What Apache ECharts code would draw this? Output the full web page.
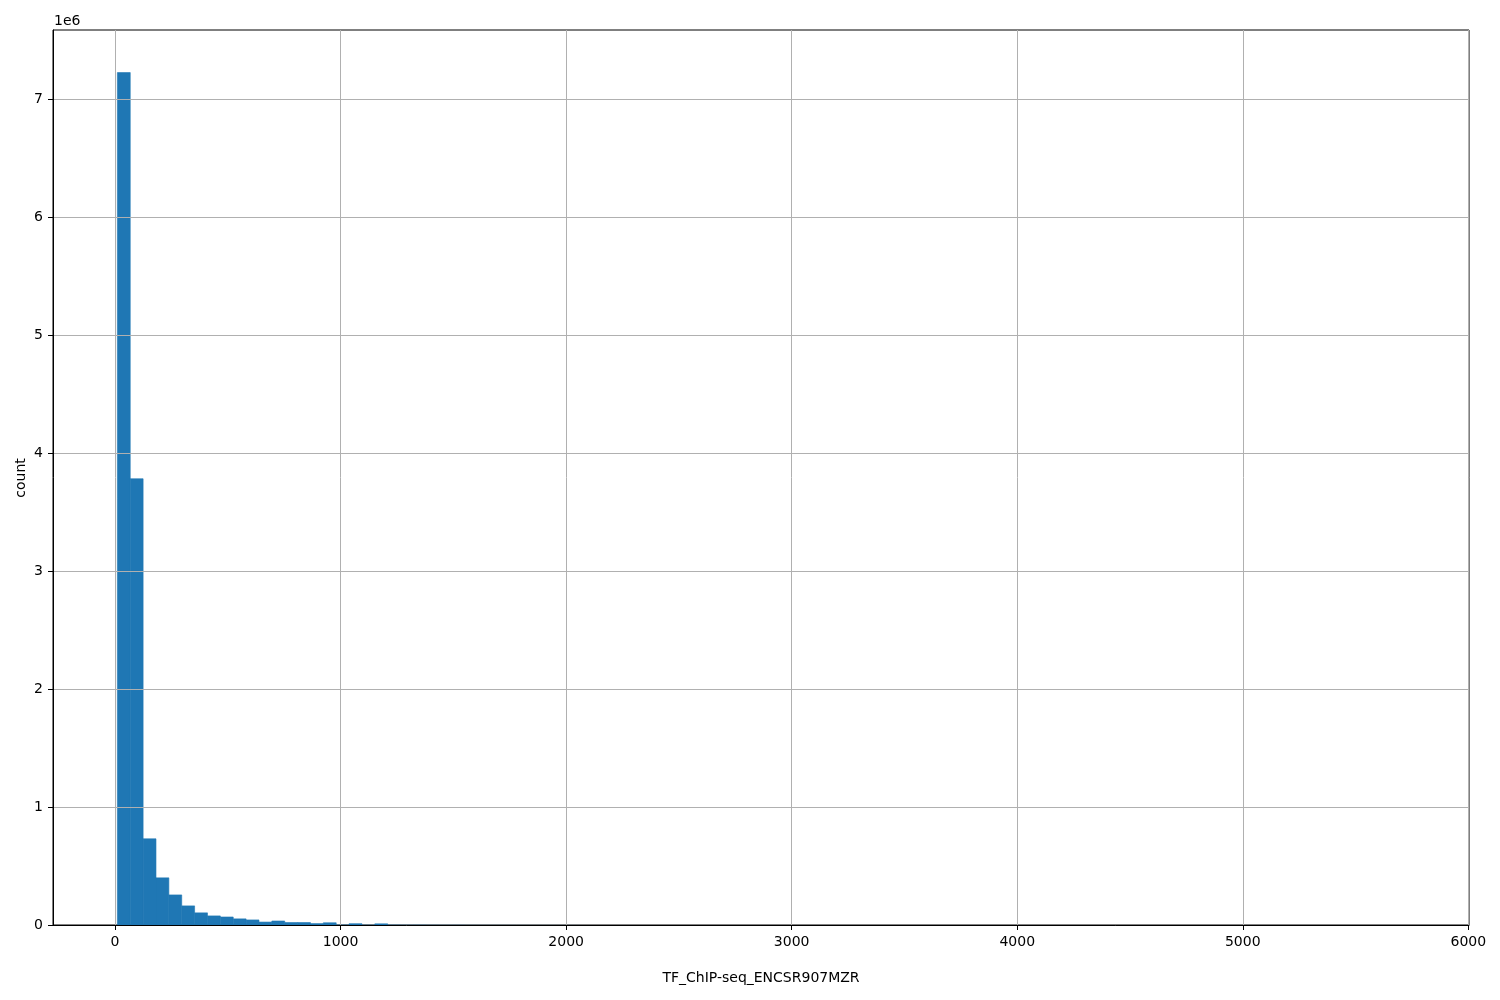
<!DOCTYPE html>
<html>
<head>
<meta charset="utf-8">
<script src="https://cdn.jsdelivr.net/npm/echarts@6/dist/echarts.min.js"></script>
<style>html,body{margin:0;padding:0;background:#fff;}#c{width:1500px;height:1000px;}</style>
</head>
<body>
<div id="c"></div>
<script>
// Histogram: 100 equal bins
var binStart = 10.4;
var binWidth = 57.07;
var counts = [
  7230000, 3785000, 731000, 400000, 255000, 162000, 103000, 77000, 68000, 52000,
  43000, 25000, 34000, 21000, 21000, 12000, 19000, 3000, 11000, 2000,
  10000, 2500, 1800, 2200, 1500, 1200, 1400, 900, 800, 700,
  650, 500, 450, 400, 380, 300, 260, 240, 200, 180,
  160, 150, 120, 110, 100, 90, 80, 75, 60, 55,
  50, 45, 40, 38, 35, 30, 28, 25, 22, 20,
  18, 16, 15, 14, 12, 11, 10, 9, 8, 8,
  7, 6, 6, 5, 5, 4, 4, 3, 3, 3,
  2, 2, 2, 2, 1, 1, 1, 1, 1, 1,
  1, 0, 1, 0, 1, 0, 0, 1, 0, 1
];
var xTicks = [0, 1000, 2000, 3000, 4000, 5000, 6000];
var yTicks = [0, 1000000, 2000000, 3000000, 4000000, 5000000, 6000000, 7000000];
var xLabel = 'TF_ChIP-seq_ENCSR907MZR';
var yLabel = 'count';
var yScaleText = '1e6';

var data = counts.map(function (c, i) {
  return [binStart + i * binWidth, binStart + (i + 1) * binWidth, c];
});

var font = 'DejaVu Sans';
var chart = echarts.init(document.getElementById('c'));
chart.setOption({
  animation: false,
  backgroundColor: '#fff',
  grid: {left: 53, top: 30, width: 1416, height: 895, show: true, borderColor: '#000', borderWidth: 1, backgroundColor: 'transparent'},
  xAxis: {
    type: 'value', min: -275, max: 6003, z: 5,
    axisLine: {show: true, onZero: false, lineStyle: {color: '#000', width: 1}},
    axisTick: {show: true, length: 5, lineStyle: {color: '#000', width: 1}, customValues: xTicks},
    axisLabel: {customValues: xTicks, color: '#000', fontFamily: font, fontSize: 14, margin: 10,
      formatter: function (v) { return String(v); }},
    splitLine: {show: true, lineStyle: {color: '#b0b0b0', width: 1}}
  },
  yAxis: {
    type: 'value', min: 0, max: 7591000, z: 5,
    axisLine: {show: true, onZero: false, lineStyle: {color: '#000', width: 1}},
    axisTick: {show: true, length: 5, lineStyle: {color: '#000', width: 1}, customValues: yTicks},
    axisLabel: {customValues: yTicks, color: '#000', fontFamily: font, fontSize: 14, margin: 10,
      formatter: function (v) { return String(Math.round(v / 1e6)); }},
    splitLine: {show: true, lineStyle: {color: '#b0b0b0', width: 1}}
  },
  graphic: [
    {type: 'text', left: 54, top: 14, style: {text: yScaleText, fill: '#000', font: '14px "DejaVu Sans"'}},
    {type: 'text', x: 761, y: 978, style: {text: xLabel, fill: '#000', font: '14px "DejaVu Sans"', align: 'center', verticalAlign: 'middle'}},
    {type: 'text', x: 21, y: 478, rotation: Math.PI / 2, style: {text: yLabel, fill: '#000', font: '14px "DejaVu Sans"', align: 'center', verticalAlign: 'middle'}}
  ],
  series: [{
    type: 'custom',
    z: 2,
    encode: {x: [0, 1], y: 2},
    data: data,
    renderItem: function (params, api) {
      var p0 = api.coord([api.value(0), api.value(2)]);
      var p1 = api.coord([api.value(1), 0]);
      var h = p1[1] - p0[1];
      var style = {fill: '#1f77b4'};
      if (h > 1) { style.stroke = '#1f77b4'; style.lineWidth = 0.6; }
      return {type: 'rect', shape: {x: p0[0], y: p0[1], width: p1[0] - p0[0], height: h}, style: style};
    }
  }]
});
</script>
</body>
</html>
